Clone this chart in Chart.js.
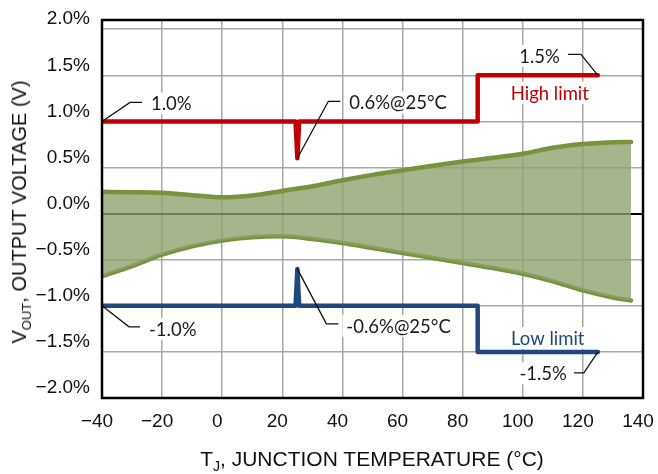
<!DOCTYPE html>
<html>
<head>
<meta charset="utf-8">
<script src="https://cdn.jsdelivr.net/npm/chart.js@4.4.1/dist/chart.umd.min.js"></script>
<style>
  html, body { margin: 0; padding: 0; background: #ffffff; }
  #wrap { position: relative; width: 658px; height: 474px; overflow: hidden; }
  #c { position: absolute; left: 0; top: 0; }
  .axt { position: absolute; font-family: "Liberation Sans", Arial, sans-serif; font-size: 21px; color: #111; white-space: nowrap; line-height: 24px; }
  .axt sub { font-size: 14px; vertical-align: -5px; line-height: 0; }
  #xt { left: 372px; top: 447px; transform: translateX(-50%); }
  #yt { left: 19px; top: 212px; font-size: 20px; transform: translate(-50%, -50%) rotate(-90deg); }
  #yt sub { font-size: 13px; }
</style>
</head>
<body>
<div id="wrap">
  <canvas id="c" width="658" height="474"></canvas>
  <div class="axt" id="xt">T<sub>J</sub>, JUNCTION TEMPERATURE (°C)</div>
  <div class="axt" id="yt">V<sub>OUT</sub>, OUTPUT VOLTAGE (V)</div>
</div>
<script>
// ---------------- data ----------------
const tempC    = [-40, -30, -20, -10, 0, 10, 20, 30, 40, 50, 60, 70, 80, 90, 100, 110, 120, 130, 136];
const upperPct = [0.236, 0.232, 0.225, 0.200, 0.177, 0.196, 0.246, 0.297, 0.362, 0.420, 0.470, 0.520, 0.565, 0.605, 0.650, 0.714, 0.754, 0.775, 0.777];
const lowerPct = [-0.680, -0.570, -0.446, -0.355, -0.293, -0.257, -0.246, -0.275, -0.319, -0.373, -0.428, -0.482, -0.536, -0.590, -0.652, -0.735, -0.833, -0.910, -0.942];

const highLimitT   = [-40, 24.4, 25, 25.6, 85, 85, 125];
const highLimitPct = [1.0, 1.0, 0.6, 1.0, 1.0, 1.5, 1.5];
const lowLimitT    = [-40, 24.4, 25, 25.6, 85, 85, 125];
const lowLimitPct  = [-1.0, -1.0, -0.6, -1.0, -1.0, -1.5, -1.5];

const xTickValues = [-40, -20, 0, 20, 40, 60, 80, 100, 120, 140];
const xTickLabels = ['\u221240', '\u221220', '0', '20', '40', '60', '80', '100', '120', '140'];
const yTickValues = [-2.0, -1.5, -1.0, -0.5, 0.0, 0.5, 1.0, 1.5, 2.0];
const yTickLabels = ['\u22122.0%', '\u22121.5%', '\u22121.0%', '\u22120.5%', '0.0%', '0.5%', '1.0%', '1.5%', '2.0%'];

// annotation labels: anchored on data values, leader path / text offsets in pixels
const notes = [
  { text: '1.0%',        at: [-40, 1.0],  path: [[28, -19], [40, -19]],   tx: 49,  ty: -18,  align: 'left' },
  { text: '0.6%@25°C',   at: [25, 0.6],   path: [[31, -57], [43, -57]],   tx: 52,  ty: -56,  align: 'left' },
  { text: '1.5%',        at: [125, 1.5],  path: [[-17, -21], [-30, -21]], tx: -38, ty: -19.5, align: 'right' },
  { text: '-1.0%',       at: [-40, -1.0], path: [[27, 21], [38, 21]],     tx: 47,  ty: 23,   align: 'left' },
  { text: '-0.6%@25°C',  at: [25, -0.6],  path: [[29, 55], [41, 55]],     tx: 49,  ty: 57,   align: 'left' },
  { text: '-1.5%',       at: [125, -1.5], path: [[-14, 21], [-24, 21]],   tx: -31, ty: 21.5, align: 'right' },
  { text: 'High limit',  at: [109, 1.31], path: [], tx: 0, ty: 0, align: 'center', color: '#C00000' },
  { text: 'Low limit',   at: [108.3, -1.35], path: [], tx: 0, ty: 0, align: 'center', color: '#1F497D' }
];

// ---------------- styles ----------------
const OLIVE = '#77933C';
const BAND = 'rgba(141,160,108,0.78)';
const RED = '#C00000';
const BLUE = '#1F497D';
const TICK_FONT = { family: '"Liberation Sans", Arial, sans-serif', size: 19 };
const NOTE_FONT = '18.5px Lato, "Open Sans", sans-serif';

const pts = (xs, ys) => xs.map((x, i) => ({ x: x, y: ys[i] }));

function noteGeom(chart, n) {
  const xs = chart.scales.x, ys = chart.scales.y;
  const ax = xs.getPixelForValue(n.at[0]);
  const ay = ys.getPixelForValue(n.at[1]);
  return { ax, ay, tx: ax + n.tx, ty: ay + n.ty };
}

const notesPlugin = {
  id: 'notes',
  beforeDatasetsDraw(chart) {
    const ctx = chart.ctx;
    ctx.save();
    ctx.font = NOTE_FONT;
    ctx.fillStyle = '#ffffff';
    for (const n of notes) {
      const g = noteGeom(chart, n);
      const w = ctx.measureText(n.text).width;
      let left = g.tx;
      if (n.align === 'right') left = g.tx - w;
      if (n.align === 'center') left = g.tx - w / 2;
      ctx.fillRect(left - 4, g.ty - 11, w + 8, 22);
    }
    ctx.restore();
  },
  afterDatasetsDraw(chart) {
    const ctx = chart.ctx;
    ctx.save();
    ctx.strokeStyle = '#111';
    ctx.lineWidth = 1.3;
    for (const n of notes) {
      const g = noteGeom(chart, n);
      if (n.path.length) {
        ctx.beginPath();
        ctx.moveTo(g.ax, g.ay);
        for (const [dx, dy] of n.path) ctx.lineTo(g.ax + dx, g.ay + dy);
        ctx.stroke();
      }
    }
    ctx.font = NOTE_FONT;
    ctx.textBaseline = 'middle';
    for (const n of notes) {
      const g = noteGeom(chart, n);
      ctx.fillStyle = n.color || '#1a1a1a';
      ctx.textAlign = n.align;
      ctx.fillText(n.text, g.tx, g.ty + 1);
    }
    ctx.restore();
  }
};

const framePlugin = {
  id: 'frame',
  afterDraw(chart) {
    const a = chart.chartArea, ctx = chart.ctx;
    ctx.save();
    ctx.strokeStyle = '#000';
    ctx.lineWidth = 2.5;
    ctx.strokeRect(a.left, a.top, a.right - a.left, a.bottom - a.top);
    ctx.restore();
  }
};

new Chart(document.getElementById('c'), {
  type: 'line',
  data: {
    datasets: [
      { label: 'Upper', data: pts(tempC, upperPct), borderColor: OLIVE, borderWidth: 4.5, backgroundColor: BAND,
        fill: '+1', pointRadius: 0, cubicInterpolationMode: 'monotone', borderCapStyle: 'round' },
      { label: 'Lower', data: pts(tempC, lowerPct), borderColor: OLIVE, borderWidth: 4.5, backgroundColor: BAND,
        fill: false, pointRadius: 0, cubicInterpolationMode: 'monotone', borderCapStyle: 'round' },
      { label: 'High limit', data: pts(highLimitT, highLimitPct), borderColor: RED, borderWidth: 4.5,
        fill: false, pointRadius: 0, tension: 0, borderJoinStyle: 'round', borderCapStyle: 'round' },
      { label: 'Low limit', data: pts(lowLimitT, lowLimitPct), borderColor: BLUE, borderWidth: 4.5,
        fill: false, pointRadius: 0, tension: 0, borderJoinStyle: 'round', borderCapStyle: 'round' }
    ]
  },
  options: {
    responsive: false,
    animation: false,
    devicePixelRatio: 1,
    layout: { padding: { top: 20, right: 15, bottom: 0, left: 0 } },
    plugins: { legend: { display: false }, tooltip: { enabled: false }, title: { display: false } },
    scales: {
      x: {
        type: 'linear', min: -40, max: 140,
        afterBuildTicks: s => { s.ticks = xTickValues.map(v => ({ value: v })); },
        afterFit: s => { s.height = 76; s.paddingLeft = 0; s.paddingRight = 0; },
        ticks: {
          autoSkip: false, maxRotation: 0, minRotation: 0, padding: 12, labelOffset: -5,
          color: '#111', font: TICK_FONT,
          callback: v => { const i = xTickValues.indexOf(v); return i >= 0 ? xTickLabels[i] : ''; }
        },
        grid: { color: '#a8a8a8', lineWidth: 1.5, drawTicks: false },
        border: { display: false }
      },
      y: {
        type: 'linear', min: -2.0, max: 2.1,
        afterBuildTicks: s => { s.ticks = yTickValues.map(v => ({ value: v })); },
        afterFit: s => { s.width = 102; s.paddingTop = 0; s.paddingBottom = 0; },
        ticks: {
          autoSkip: false, padding: 12, labelOffset: -10,
          color: '#111', font: TICK_FONT,
          callback: v => { const i = yTickValues.findIndex(t => Math.abs(t - v) < 1e-9); return i >= 0 ? yTickLabels[i] : ''; }
        },
        grid: {
          drawTicks: false,
          color: c => (c.tick && Math.abs(c.tick.value) < 1e-9) ? '#000' : '#a8a8a8',
          lineWidth: c => (c.tick && Math.abs(c.tick.value) < 1e-9) ? 2 : 1.5
        },
        border: { display: false }
      }
    }
  },
  plugins: [notesPlugin, framePlugin]
});
</script>
</body>
</html>
